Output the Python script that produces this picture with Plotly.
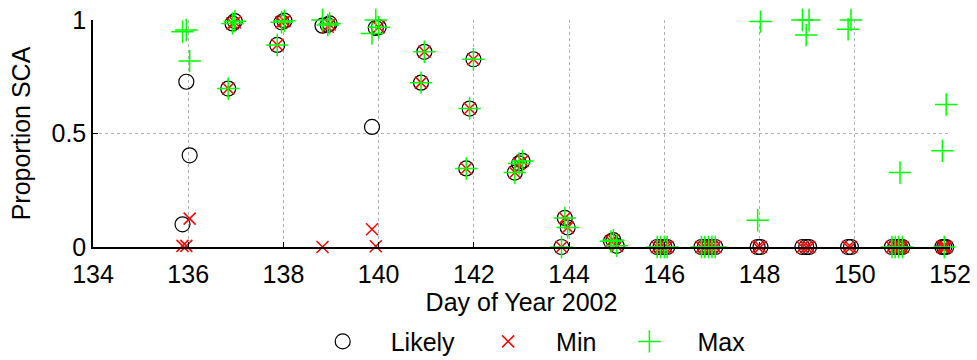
import plotly.graph_objects as go

# Observations: day of year, likely / min / max proportion SCA
days = [135.88, 135.96, 136.03, 136.84, 136.93, 136.98, 137.87, 137.96, 138.02,
        138.82, 138.93, 138.97, 139.86, 139.94, 140.0, 140.89, 140.96,
        141.84, 141.91, 141.99, 142.86, 142.95, 143.02, 143.84, 143.91, 143.97,
        144.88, 144.93, 145.0, 145.85, 145.92, 146.0, 146.06,
        146.78, 146.85, 146.93, 147.0, 147.07, 147.96, 148.02,
        148.9, 148.98, 149.04, 149.86, 149.92, 150.78, 150.85, 150.92, 150.95, 151.0,
        151.84, 151.88, 151.92]
likely = [0.10, 0.728, 0.404, 0.698, 0.985, 0.995, 0.89, 0.99, 0.997,
          0.975, 0.978, 0.985, 0.529, 0.965, 0.968, 0.724, 0.86,
          0.346, 0.61, 0.827, 0.328, 0.368, 0.379, 0.0, 0.128, 0.086,
          0.025, 0.03, 0.005, 0.0, 0.0, 0.0, 0.0,
          0.0, 0.0, 0.0, 0.0, 0.0, 0.0, 0.0,
          0.0, 0.0, 0.0, 0.0, 0.0, 0.0, 0.0, 0.0, 0.0, 0.0,
          0.0, 0.0, 0.0]
minimum = [0.005, 0.005, 0.125, 0.698, 0.985, 0.99, 0.89, 0.99, 0.995,
           0.0, 0.97, 0.98, 0.078, 0.003, 0.968, 0.724, 0.86,
           0.346, 0.61, 0.827, 0.328, 0.368, 0.379, 0.0, 0.128, 0.086,
           0.025, 0.03, 0.005, 0.0, 0.0, 0.0, 0.0,
           0.0, 0.0, 0.0, 0.0, 0.0, 0.0, 0.0,
           0.0, 0.0, 0.0, 0.0, 0.0, 0.0, 0.0, 0.0, 0.0, 0.0,
           0.0, 0.0, 0.0]
maximum = [0.948, 0.956, 0.819, 0.698, 0.985, 0.995, 0.89, 0.99, 0.997,
           1.0, 0.978, 0.985, 0.94, 1.0, 0.968, 0.724, 0.86,
           0.346, 0.61, 0.827, 0.328, 0.368, 0.379, 0.0, 0.128, 0.086,
           0.025, 0.03, 0.005, 0.0, 0.0, 0.0, 0.0,
           0.0, 0.0, 0.0, 0.0, 0.0, 0.118, 0.993,
           1.0, 0.934, 1.0, 0.959, 1.0, 0.0, 0.0, 0.0, 0.328, 0.0,
           0.424, 0.0, 0.628]

x_ticks = [134, 136, 138, 140, 142, 144, 146, 148, 150, 152]
y_ticks = [0, 0.5, 1]
y_tick_text = ["0", "0.5", "1"]

FONT = "Liberation Sans, Arial, sans-serif"

fig = go.Figure()
fig.add_trace(go.Scatter(x=days, y=likely, mode="markers", name="Likely",
                         marker=dict(symbol="circle-open", size=15, color="black",
                                     line=dict(width=1.2, color="black")),
                         cliponaxis=False))
fig.add_trace(go.Scatter(x=days, y=minimum, mode="markers", name="Min",
                         marker=dict(symbol="x-thin-open", size=12, color="#ff0000",
                                     line=dict(width=1.5, color="#ff0000")),
                         cliponaxis=False))
fig.add_trace(go.Scatter(x=days, y=maximum, mode="markers", name="Max",
                         marker=dict(symbol="cross-thin-open", size=16, color="#00ff00",
                                     line=dict(width=1.5, color="#00ff00")),
                         cliponaxis=False))

fig.update_layout(
    width=977, height=360, autosize=False,
    margin=dict(l=93, r=27, t=20, b=113, autoexpand=False),
    paper_bgcolor="white", plot_bgcolor="white",
    font=dict(family=FONT, size=25, color="black"),
    showlegend=True,
    legend=dict(orientation="h", xref="container", yref="container",
                x=0.535, xanchor="center", y=0.051, yanchor="middle",
                font=dict(size=25), itemwidth=86, bgcolor="rgba(0,0,0,0)"),
)
fig.update_xaxes(range=[134, 152], tickvals=x_ticks, ticks="inside", ticklen=5,
                 tickcolor="black", showline=True, linecolor="black", linewidth=1.5,
                 showgrid=True, gridcolor="#b0b0b0", griddash="dot", gridwidth=1,
                 zeroline=False, tickfont=dict(size=25), ticklabelstandoff=4,
                 title=dict(text="Day of Year 2002", font=dict(size=25), standoff=2))
fig.update_yaxes(range=[0, 1], tickvals=y_ticks, ticktext=y_tick_text, ticks="inside",
                 ticklen=5, tickcolor="black", showline=True, linecolor="black",
                 linewidth=1.5, showgrid=True, gridcolor="#b0b0b0", griddash="dot",
                 gridwidth=1, zeroline=False, tickfont=dict(size=25),
                 title=dict(text="Proportion SCA", font=dict(size=25), standoff=14))

fig.write_html("out.html")
